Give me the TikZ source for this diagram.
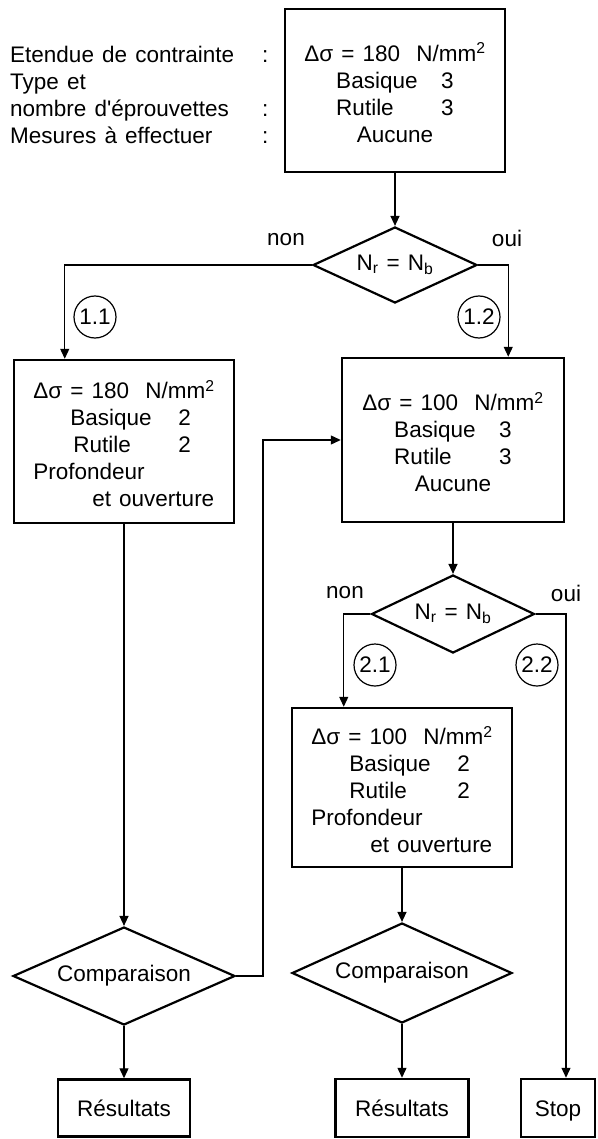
\documentclass[tikz,border=0pt]{standalone}
\usepackage{fontspec}
\setmainfont{Liberation Sans}[WordSpace=1.3]
\usetikzlibrary{shapes.geometric,arrows.meta}
\newcommand\dsg[1]{\rule{0pt}{23pt}Δσ = #1\ \ N/mm\textsuperscript{2}}
\begin{document}
\begin{tikzpicture}[x=1pt,y=-1pt,
  every node/.style={font=\fontsize{22.5}{27}\selectfont, inner sep=0pt},
  box/.style={draw, line width=2.5pt},
  endbox/.style={draw, line width=2.5pt, text height=16pt, text depth=0pt},
  dia/.style={draw, diamond, line width=2.2pt, shape aspect=2.2},
  num/.style={draw, circle, line width=1.2pt, minimum size=42pt},
  arr/.style={line width=1.3pt, -{Triangle[length=10pt,width=9pt]}},
  conn/.style={line width=1.3pt}]
\fill[white] (0,0) rectangle (597,1139);
\useasboundingbox (0,0) rectangle (597,1139);

% left labels
\node[anchor=west, align=left] (lbl) at (10,94.5)
  {\makebox[252pt][l]{Etendue de contrainte}:\\
   Type et\\
   \makebox[252pt][l]{nombre d\textquotesingle éprouvettes}:\\
   \makebox[252pt][l]{Mesures à effectuer}:};

% boxes
\node[box, align=center, minimum width=220pt, minimum height=163pt] (A) at (395,90.5)
  {\dsg{180}\\ \makebox[105pt][l]{Basique}3\\ \makebox[105pt][l]{Rutile}3\\ Aucune};

\node[box, align=left, minimum width=220pt, minimum height=163pt] (B11) at (124,441.5)
  {\dsg{180}\\
   \hspace*{37pt}\makebox[108pt][l]{Basique}2\\
   \hspace*{40pt}\makebox[105pt][l]{Rutile}2\\
   Profondeur\\
   \hspace*{59pt}et ouverture};

\node[box, align=center, minimum width=222pt, minimum height=164pt] (B12) at (453,440)
  {\dsg{100}\\ \makebox[105pt][l]{Basique}3\\ \makebox[105pt][l]{Rutile}3\\ Aucune};

\node[box, align=left, minimum width=220pt, minimum height=159pt] (B21) at (402,787.5)
  {\dsg{100}\\
   \hspace*{38pt}\makebox[108pt][l]{Basique}2\\
   \hspace*{38pt}\makebox[108pt][l]{Rutile}2\\
   Profondeur\\
   \hspace*{59pt}et ouverture};

% diamonds
\node[dia, minimum width=164pt, minimum height=76pt] (D1) at (395,265)
  {N\textsubscript{r} = N\textsubscript{b}};
\node[dia, minimum width=163pt, minimum height=78pt] (D2) at (453,614)
  {N\textsubscript{r} = N\textsubscript{b}};
\node[dia, minimum width=222pt, minimum height=98pt] (D3) at (124,976) {Comparaison};
\node[dia, minimum width=220pt, minimum height=100pt] (D4) at (402,973) {Comparaison};

% end boxes
\node[endbox, minimum width=132pt, minimum height=57pt] (R1) at (124,1108) {Résultats};
\node[endbox, minimum width=133pt, minimum height=58pt] (R2) at (402,1108) {Résultats};
\node[endbox, minimum width=74pt, minimum height=58pt] (Stop) at (558,1108) {Stop};

% numbered circles
\node[num] (n11) at (95,317) {1.1};
\node[num] (n12) at (479,317) {1.2};
\node[num] (n21) at (375,665) {2.1};
\node[num] (n22) at (537,665) {2.2};

% branch labels
\node (non1) at (286,240) {non};
\node (oui1) at (507,238) {oui};
\node (non2) at (345,593) {non};
\node (oui2) at (566,593) {oui};

% connectors
\draw[arr] (A.south) -- (D1.north);
\draw[arr] (D1.west) -| ([xshift=52pt]B11.north west);
\draw[arr] (D1.east) -| ([xshift=-57pt]B12.north east);
\draw[arr] (B11.south) -- (D3.north);
\draw[arr] (D3.east) -- ++(27,0) |- (B12.west);
\draw[arr] (B12.south) -- (D2.north);
\draw[arr] (D2.west) -| ([xshift=53pt]B21.north west);
\draw[arr] (D2.east) -| ([xshift=8pt]Stop.north);
\draw[arr] (B21.south) -- (D4.north);
\draw[arr] (D3.south) -- (R1.north);
\draw[arr] (D4.south) -- (R2.north);
\end{tikzpicture}
\end{document}
